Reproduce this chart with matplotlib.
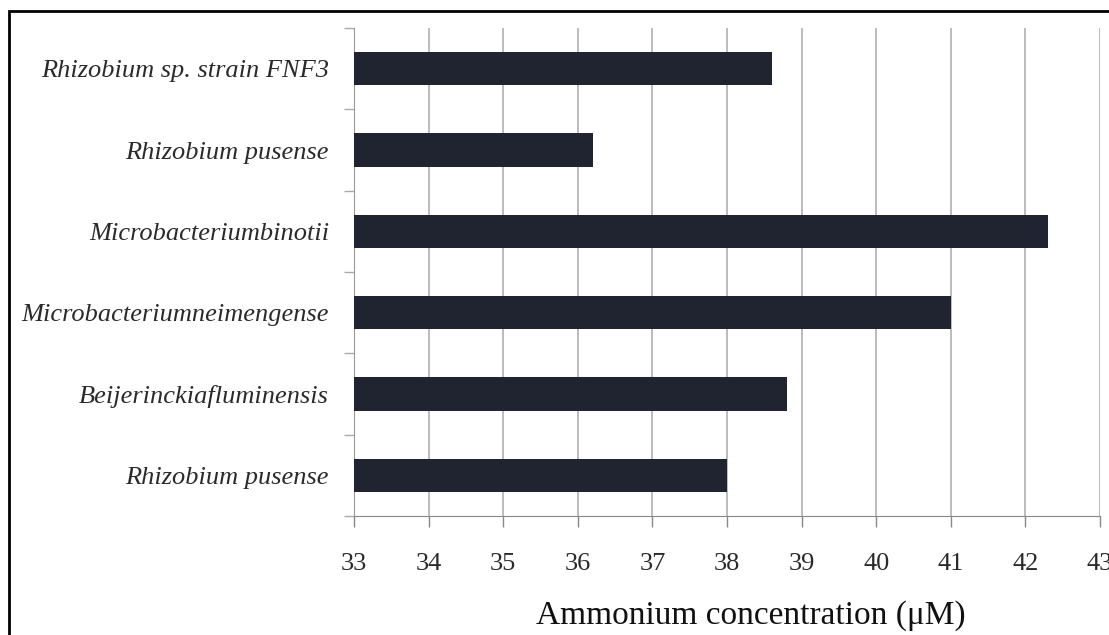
import matplotlib
matplotlib.use('Agg')
import matplotlib.pyplot as plt
from matplotlib.patches import Rectangle
import numpy as np

# data, bottom to top as drawn
strains = ['Rhizobium pusense', 'Beijerinckiafluminensis', 'Microbacteriumneimengense',
           'Microbacteriumbinotii', 'Rhizobium pusense', 'Rhizobium sp. strain FNF3']
ammonium = [38.0, 38.8, 41.0, 42.3, 36.2, 38.6]
x_ticks = list(range(33, 44))

plt.rcParams['font.family'] = ['Liberation Serif', 'DejaVu Serif']

fig = plt.figure(figsize=(11.09, 6.35), dpi=100)
ax = fig.add_axes([354 / 1109, 1 - 516 / 635, 746 / 1109, 488 / 635])

y = np.arange(len(strains))
ax.barh(y, np.array(ammonium) - 33, left=33, height=0.41, color='#1f2430', zorder=3)

ax.set_xlim(33, 43)
ax.set_ylim(-0.5, len(strains) - 0.5)
ax.set_xticks(x_ticks)
ax.set_xticklabels([str(t) for t in x_ticks], fontsize=19, color='#2a2a2a')
ax.tick_params(axis='x', direction='out', length=8, width=1, color='#888888', pad=19)

ax.set_yticks(y)
ax.set_yticklabels(strains, fontsize=19, style='italic', color='#2a2a2a')
ax.set_yticks(np.arange(-0.5, len(strains)), minor=True)
ax.tick_params(axis='y', which='major', length=0, pad=18)
ax.tick_params(axis='y', which='minor', direction='out', length=7, width=1, color='#aaaaaa')

ax.grid(axis='x', color='#b0b0b0', linewidth=1.2, zorder=0)
for s in ['top', 'right']:
    ax.spines[s].set_visible(False)
ax.spines['left'].set_color('#999999')
ax.spines['bottom'].set_color('#888888')

ax.set_xlabel('Ammonium concentration (\u03bcM)', fontsize=24, color='#111111')
ax.xaxis.set_label_coords(0.532, -0.172)

# outer frame of the picture (cut off on right and bottom)
fig.patches.append(Rectangle((9 / 1109, -0.05), 1.1, 1 - 11 / 635 + 0.05, transform=fig.transFigure,
                             fill=False, edgecolor='black', linewidth=2))

fig.savefig('out.png', dpi=100)
